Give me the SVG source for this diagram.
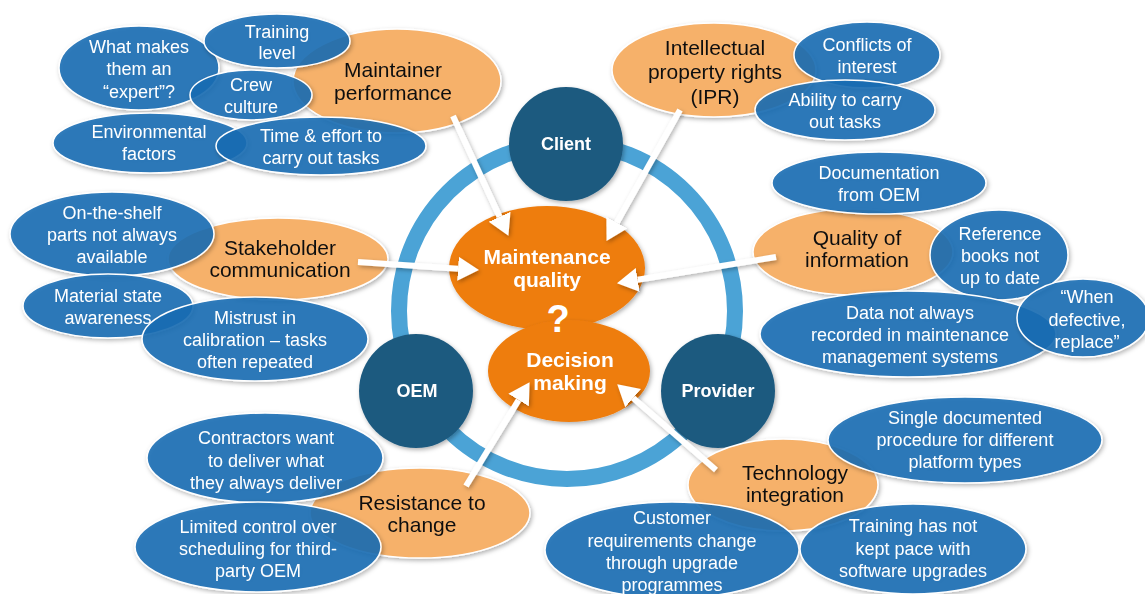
<svg xmlns="http://www.w3.org/2000/svg" width="1145" height="594" viewBox="0 0 1145 594">
<defs>
<filter id="sh" x="-20%" y="-20%" width="140%" height="140%">
<feDropShadow dx="1.5" dy="2" stdDeviation="2" flood-color="#000" flood-opacity="0.3"/>
</filter>
<marker id="ah" markerUnits="userSpaceOnUse" markerWidth="22" markerHeight="26" viewBox="0 -13 22 26" refX="0" refY="0" orient="auto">
<path d="M0,-12 L21,0 L0,12 z" fill="#fff"/>
</marker>
<style>
.blue{fill:#1A6DB4;fill-opacity:0.88;stroke:#fff;stroke-width:1.5}
.lo{fill:#F6B16B;stroke:#fff;stroke-width:1.5}
.navy{fill:#1E5A7F}
.core{fill:#EE7D10}
.bt{font-family:"Liberation Sans",Arial,sans-serif;font-size:18px;fill:#fff;text-anchor:middle}
.ot{font-family:"Liberation Sans",Arial,sans-serif;font-size:21px;fill:#111;text-anchor:middle}
.ct{font-family:"Liberation Sans",Arial,sans-serif;font-size:21px;font-weight:bold;fill:#fff;text-anchor:middle}
.nt{font-family:"Liberation Sans",Arial,sans-serif;font-size:18px;font-weight:bold;fill:#fff;text-anchor:middle}
.arr{stroke:#fff;stroke-width:6;fill:none;marker-end:url(#ah)}
</style>
</defs>
<rect width="1145" height="594" fill="#fff"/>

<g id="ring">
<circle cx="567" cy="311" r="168" fill="none" stroke="#4BA3D6" stroke-width="16"/>
</g>
<g id="client" filter="url(#sh)">
<circle class="navy" cx="566" cy="144" r="57"/>
<text class="nt" x="566" y="150">Client</text>
</g>
<g id="oem" filter="url(#sh)">
<circle class="navy" cx="416" cy="391" r="57"/>
<text class="nt" x="417" y="397">OEM</text>
</g>
<g id="provider" filter="url(#sh)">
<circle class="navy" cx="718" cy="391" r="57"/>
<text class="nt" x="718" y="397">Provider</text>
</g>

<g id="maintenance-quality" filter="url(#sh)">
<ellipse class="core" cx="547" cy="268" rx="98" ry="62"/>
<text class="ct" x="547" y="264">Maintenance</text>
<text class="ct" x="547" y="287">quality</text>
</g>
<g id="decision-making" filter="url(#sh)">
<ellipse class="core" cx="569" cy="371" rx="81" ry="51"/>
<text class="ct" x="570" y="367">Decision</text>
<text class="ct" x="570" y="390">making</text>
</g>
<g id="question">
<text class="ct" x="558" y="332" style="font-size:38px">?</text>
</g>

<g id="maintainer-performance" filter="url(#sh)">
<ellipse class="lo" cx="397" cy="81" rx="104" ry="52"/>
<text class="ot" x="393" y="77">Maintainer</text>
<text class="ot" x="393" y="100">performance</text>
</g>
<g id="ipr" filter="url(#sh)">
<ellipse class="lo" cx="714" cy="70" rx="102" ry="47"/>
<text class="ot" x="715" y="55">Intellectual</text>
<text class="ot" x="715" y="79">property rights</text>
<text class="ot" x="715" y="104">(IPR)</text>
</g>
<g id="stakeholder-communication" filter="url(#sh)">
<ellipse class="lo" cx="278" cy="259" rx="110" ry="41"/>
<text class="ot" x="280" y="255">Stakeholder</text>
<text class="ot" x="280" y="277">communication</text>
</g>
<g id="quality-of-information" filter="url(#sh)">
<ellipse class="lo" cx="853" cy="252" rx="100" ry="43"/>
<text class="ot" x="857" y="245">Quality of</text>
<text class="ot" x="857" y="267">information</text>
</g>
<g id="resistance-to-change" filter="url(#sh)">
<ellipse class="lo" cx="420" cy="513" rx="110" ry="45"/>
<text class="ot" x="422" y="510">Resistance to</text>
<text class="ot" x="422" y="532">change</text>
</g>
<g id="technology-integration" filter="url(#sh)">
<ellipse class="lo" cx="783" cy="485" rx="95" ry="46"/>
<text class="ot" x="795" y="480">Technology</text>
<text class="ot" x="795" y="502">integration</text>
</g>

<g id="what-makes-expert" filter="url(#sh)">
<ellipse class="blue" cx="139" cy="68" rx="80" ry="42"/>
<text class="bt" x="139" y="53">What makes</text>
<text class="bt" x="139" y="75">them an</text>
<text class="bt" x="139" y="98">“expert”?</text>
</g>
<g id="training-level" filter="url(#sh)">
<ellipse class="blue" cx="277" cy="41" rx="73" ry="27"/>
<text class="bt" x="277" y="38">Training</text>
<text class="bt" x="277" y="59">level</text>
</g>
<g id="crew-culture" filter="url(#sh)">
<ellipse class="blue" cx="251" cy="95" rx="61" ry="25"/>
<text class="bt" x="251" y="91">Crew</text>
<text class="bt" x="251" y="113">culture</text>
</g>
<g id="environmental-factors" filter="url(#sh)">
<ellipse class="blue" cx="150" cy="143" rx="97" ry="30"/>
<text class="bt" x="149" y="138">Environmental</text>
<text class="bt" x="149" y="160">factors</text>
</g>
<g id="time-effort" filter="url(#sh)">
<ellipse class="blue" cx="321" cy="146" rx="105" ry="29"/>
<text class="bt" x="321" y="142">Time &amp; effort to</text>
<text class="bt" x="321" y="164">carry out tasks</text>
</g>
<g id="conflicts-of-interest" filter="url(#sh)">
<ellipse class="blue" cx="867" cy="55" rx="73" ry="33"/>
<text class="bt" x="867" y="51">Conflicts of</text>
<text class="bt" x="867" y="73">interest</text>
</g>
<g id="ability-to-carry-out" filter="url(#sh)">
<ellipse class="blue" cx="845" cy="110" rx="90" ry="30"/>
<text class="bt" x="845" y="106">Ability to carry</text>
<text class="bt" x="845" y="128">out tasks</text>
</g>
<g id="documentation-oem" filter="url(#sh)">
<ellipse class="blue" cx="879" cy="183" rx="107" ry="31"/>
<text class="bt" x="879" y="179">Documentation</text>
<text class="bt" x="879" y="201">from OEM</text>
</g>
<g id="reference-books" filter="url(#sh)">
<ellipse class="blue" cx="999" cy="255" rx="69" ry="45"/>
<text class="bt" x="1000" y="240">Reference</text>
<text class="bt" x="1000" y="262">books not</text>
<text class="bt" x="1000" y="284">up to date</text>
</g>
<g id="data-not-recorded" filter="url(#sh)">
<ellipse class="blue" cx="908" cy="334" rx="148" ry="43"/>
<text class="bt" x="910" y="319">Data not always</text>
<text class="bt" x="910" y="341">recorded in maintenance</text>
<text class="bt" x="910" y="363">management systems</text>
</g>
<g id="when-defective" filter="url(#sh)">
<ellipse class="blue" cx="1083" cy="318" rx="66" ry="39"/>
<text class="bt" x="1087" y="303">“When</text>
<text class="bt" x="1087" y="326">defective,</text>
<text class="bt" x="1087" y="348">replace”</text>
</g>
<g id="on-the-shelf" filter="url(#sh)">
<ellipse class="blue" cx="112" cy="234" rx="102" ry="42"/>
<text class="bt" x="112" y="219">On-the-shelf</text>
<text class="bt" x="112" y="241">parts not always</text>
<text class="bt" x="112" y="263">available</text>
</g>
<g id="material-state" filter="url(#sh)">
<ellipse class="blue" cx="108" cy="306" rx="85" ry="32"/>
<text class="bt" x="108" y="302">Material state</text>
<text class="bt" x="108" y="324">awareness</text>
</g>
<g id="mistrust-calibration" filter="url(#sh)">
<ellipse class="blue" cx="255" cy="339" rx="113" ry="42"/>
<text class="bt" x="255" y="324">Mistrust in</text>
<text class="bt" x="255" y="346">calibration – tasks</text>
<text class="bt" x="255" y="368">often repeated</text>
</g>
<g id="contractors" filter="url(#sh)">
<ellipse class="blue" cx="265" cy="458" rx="118" ry="45"/>
<text class="bt" x="266" y="444">Contractors want</text>
<text class="bt" x="266" y="467">to deliver what</text>
<text class="bt" x="266" y="489">they always deliver</text>
</g>
<g id="limited-control" filter="url(#sh)">
<ellipse class="blue" cx="258" cy="547" rx="123" ry="45"/>
<text class="bt" x="258" y="533">Limited control over</text>
<text class="bt" x="258" y="555">scheduling for third-</text>
<text class="bt" x="258" y="577">party OEM</text>
</g>
<g id="single-documented" filter="url(#sh)">
<ellipse class="blue" cx="965" cy="440" rx="137" ry="43"/>
<text class="bt" x="965" y="424">Single documented</text>
<text class="bt" x="965" y="446">procedure for different</text>
<text class="bt" x="965" y="468">platform types</text>
</g>
<g id="customer-requirements" filter="url(#sh)">
<ellipse class="blue" cx="672" cy="550" rx="127" ry="48"/>
<text class="bt" x="672" y="524">Customer</text>
<text class="bt" x="672" y="547">requirements change</text>
<text class="bt" x="672" y="569">through upgrade</text>
<text class="bt" x="672" y="591">programmes</text>
</g>
<g id="training-pace" filter="url(#sh)">
<ellipse class="blue" cx="913" cy="549" rx="113" ry="45"/>
<text class="bt" x="913" y="532">Training has not</text>
<text class="bt" x="913" y="555">kept pace with</text>
<text class="bt" x="913" y="577">software upgrades</text>
</g>

<g id="connectors" filter="url(#sh)">
<line class="arr" x1="453" y1="116" x2="499.6" y2="216.8"/>
<line class="arr" x1="680" y1="110" x2="616.8" y2="222.6"/>
<line class="arr" x1="358" y1="262" x2="458" y2="268.7"/>
<line class="arr" x1="776" y1="257" x2="637.7" y2="279.8"/>
<line class="arr" x1="466" y1="486" x2="518.6" y2="400.1"/>
<line class="arr" x1="716" y1="470" x2="633.1" y2="398.1"/>
</g>
</svg>
